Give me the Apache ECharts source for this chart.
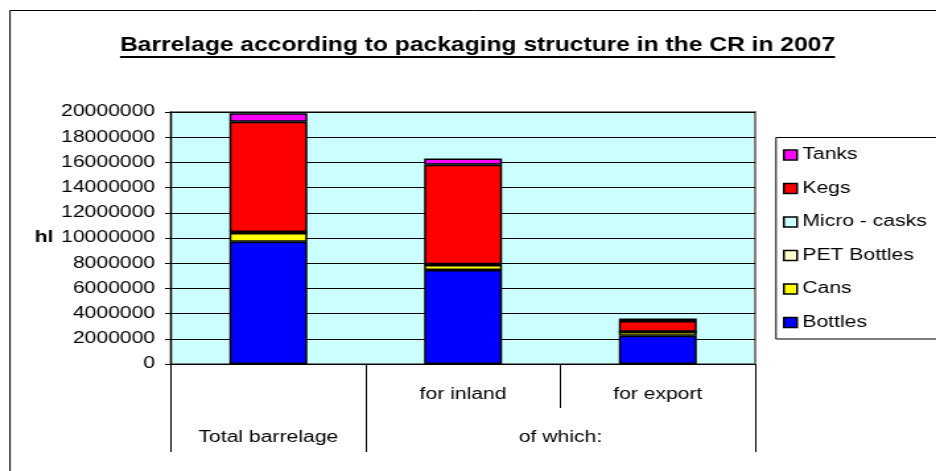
<!DOCTYPE html>
<html>
<head>
<meta charset="utf-8">
<script src="https://cdn.jsdelivr.net/npm/echarts@6/dist/echarts.min.js"></script>
<style>
  html, body { margin: 0; padding: 0; background: #fff; overflow: hidden; }
  #wrap { width: 936px; height: 471px; overflow: hidden; position: relative; }
  /* the chart is laid out narrow and stretched horizontally, like the original sheet */
  #chart { width: 709px; height: 471px; transform: scaleX(1.3202); transform-origin: 0 0; }
</style>
</head>
<body>
<div id="wrap"><div id="chart"></div></div>
<script>
// Beer output of the Czech Republic in 2007 by packaging type, hectolitres
const categories = ['', 'for inland', 'for export'];
const groupLabels = ['Total barrelage', 'of which:'];
const groupLabelPos = [0.5, 2];
const groupBounds = [0, 1, 3];

const bottles    = [9700000, 7460000, 2240000];
const cans       = [700000, 400000, 300000];
const petBottles = [60000, 50000, 10000];
const microCasks = [10000, 10000, 5000];
const kegs       = [8750000, 7900000, 850000];
const tanks      = [680000, 480000, 200000];

const yTicks = { min: 0, max: 20000000, step: 2000000 };

const FONT = 'Liberation Sans, Arial, sans-serif';
const TITLE = 'Barrelage according to packaging structure in the CR in 2007';
const TITLE_SIZE = 20.5;
const TITLE_WIDTH = 541.6;   // drawn width of the title line
const TITLE_CX = 361.7;
const TITLE_CY = 45;

const chart = echarts.init(document.getElementById('chart'), null, { renderer: 'canvas' });

function bar(name, data, color) {
  return {
    name: name,
    type: 'bar',
    stack: 'total',
    barWidth: '40%',
    data: data,
    itemStyle: { color: color, borderColor: '#000', borderWidth: 1.5 }
  };
}

// the title is condensed a little so it keeps its width at a larger size
const ctx = document.createElement('canvas').getContext('2d');
ctx.font = 'bold ' + TITLE_SIZE + 'px Liberation Sans';
const rawW = ctx.measureText(TITLE).width;
const titleScale = TITLE_WIDTH / rawW;

chart.setOption({
  animation: false,
  backgroundColor: '#fff',
  textStyle: { fontFamily: FONT },
  graphic: [
    { type: 'rect', silent: true, shape: { x: 7.6, y: 10.5, width: 800, height: 500 },
      style: { fill: 'none', stroke: '#000', lineWidth: 1 }, z: 100 },
    { type: 'text', silent: true, x: TITLE_CX, y: TITLE_CY, scaleX: titleScale, scaleY: 1,
      style: { text: TITLE, x: 0, y: 0, fill: '#000', align: 'center', verticalAlign: 'middle',
        font: 'bold ' + TITLE_SIZE + 'px Liberation Sans, Arial, sans-serif' } },
    { type: 'line', silent: true,
      shape: { x1: TITLE_CX - TITLE_WIDTH / 2, y1: 57, x2: TITLE_CX + TITLE_WIDTH / 2, y2: 57 },
      style: { stroke: '#000', lineWidth: 2 } },
    { type: 'rect', silent: true, shape: { x: 587.8, y: 137.5, width: 200, height: 201.5 },
      style: { fill: '#fff', stroke: '#000', lineWidth: 1 }, z: 0 }
  ],
  legend: {
    orient: 'vertical',
    left: 593,
    top: 147,
    padding: 0,
    itemWidth: 10,
    itemHeight: 10,
    itemGap: 17.5,
    icon: 'rect',
    data: ['Tanks', 'Kegs', 'Micro - casks', 'PET Bottles', 'Cans', 'Bottles'],
    itemStyle: { borderColor: '#000', borderWidth: 1.5 },
    textStyle: { fontSize: 16, color: '#000', fontFamily: FONT, padding: [0, 0, 0, -1] },
    z: 10
  },
  grid: {
    left: 129.5,
    right: 137,
    top: 112,
    bottom: 107,
    show: true,
    backgroundColor: '#CCFFFF',
    borderColor: '#808080',
    borderWidth: 2
  },
  xAxis: [
    {
      type: 'category',
      data: categories,
      position: 'bottom',
      axisLine: { lineStyle: { color: '#000', width: 1 } },
      axisTick: { show: true, length: 44, lineStyle: { color: '#000' } },
      axisLabel: { fontSize: 16, color: '#000', margin: 23, fontFamily: FONT },
      splitLine: { show: false }
    },
    {
      type: 'value',
      min: 0,
      max: 3,
      position: 'bottom',
      offset: 44,
      axisLine: { show: false },
      axisTick: { show: true, length: 44, customValues: groupBounds, lineStyle: { color: '#000' } },
      axisLabel: {
        fontSize: 16, color: '#000', margin: 22, fontFamily: FONT,
        customValues: groupLabelPos,
        formatter: function (v) {
          const i = groupLabelPos.indexOf(v);
          return i >= 0 ? groupLabels[i] : '';
        }
      },
      splitLine: { show: false }
    }
  ],
  yAxis: {
    type: 'value',
    min: yTicks.min,
    max: yTicks.max,
    interval: yTicks.step,
    name: 'hl',
    nameLocation: 'middle',
    nameGap: 89,
    nameRotate: 0,
    nameTextStyle: { fontSize: 16, fontWeight: 'bold', color: '#000', fontFamily: FONT },
    axisLine: { show: true, lineStyle: { color: '#000' } },
    axisTick: { show: true, length: 4.5, lineStyle: { color: '#000' } },
    axisLabel: { fontSize: 16, color: '#000', margin: 12, fontFamily: FONT,
      formatter: function (v) { return String(v); } },
    splitLine: { show: true, lineStyle: { color: '#000', width: 1 } }
  },
  series: [
    bar('Bottles', bottles, '#0000FF'),
    bar('Cans', cans, '#FFFF00'),
    bar('PET Bottles', petBottles, '#FFFFCC'),
    bar('Micro - casks', microCasks, '#CCFFFF'),
    bar('Kegs', kegs, '#FF0000'),
    bar('Tanks', tanks, '#FF00FF')
  ]
});
</script>
</body>
</html>
